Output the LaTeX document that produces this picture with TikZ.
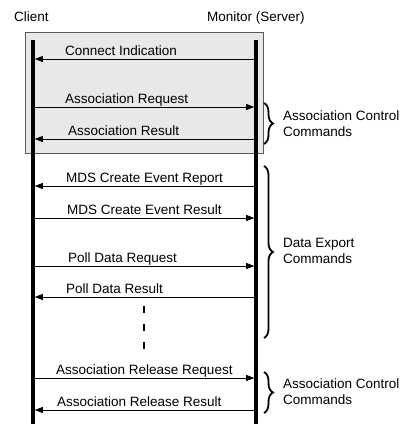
\documentclass[tikz,border=0pt]{standalone}
\usepackage{fontspec}
\setmainfont{Liberation Sans}
\usetikzlibrary{arrows.meta,decorations.pathreplacing}
\begin{document}
\begin{tikzpicture}[x=1pt,y=-1pt,
  lifeline/.style={line width=3.6pt},
  msg/.style={line width=0.7pt,-{Triangle[length=8pt,width=6pt]}},
  lbl/.style={anchor=base west,inner sep=0pt},
  grp/.style={decorate,decoration={brace,amplitude=9pt},line width=1.8pt},
  grplbl/.style={anchor=west,align=left,inner sep=0pt,font=\fontsize{13.5}{15.5}\selectfont},
  every node/.style={font=\fontsize{13.5}{15.5}\selectfont}]
\useasboundingbox (0,0) rectangle (400,424);
% grey box
\draw[draw=black!65,fill=black!9,line width=0.8pt] (25,32) rectangle (263,153);
% headers
\node[lbl] (client) at (14,21.7) {Client};
\node[lbl] (server) at (207,21.7) {Monitor (Server)};
% lifelines
\coordinate (ctop) at (33,40);
\coordinate (cbot) at (33,424);
\coordinate (stop) at (256,40);
\coordinate (sbot) at (256,424);
\draw[lifeline] (ctop) -- (cbot);
\draw[lifeline] (stop) -- (sbot);
% message endpoints
\foreach \i/\y in {1/59,2/107,3/139,4/186,5/218,6/266,7/297,8/378,9/410}{
  \coordinate (c\i) at (34.8,\y);
  \coordinate (s\i) at (254.2,\y);
}
\draw[msg] (s1) -- (c1);
\draw[msg] (c2) -- (s2);
\draw[msg] (s3) -- (c3);
\draw[msg] (s4) -- (c4);
\draw[msg] (c5) -- (s5);
\draw[msg] (c6) -- (s6);
\draw[msg] (s7) -- (c7);
\draw[msg] (c8) -- (s8);
\draw[msg] (s9) -- (c9);
% labels
\node[lbl] (l1) at (65,55.5) {Connect Indication};
\node[lbl] (l2) at (65,103.3) {Association Request};
\node[lbl] (l3) at (68,135.5) {Association Result};
\node[lbl] (l4) at (66,182.5) {MDS Create Event Report};
\node[lbl] (l5) at (67,214.5) {MDS Create Event Result};
\node[lbl] (l6) at (68,262.5) {Poll Data Request};
\node[lbl] (l7) at (66,293.5) {Poll Data Result};
\node[lbl] (l8) at (56,374.5) {Association Release Request};
\node[lbl] (l9) at (57,406.5) {Association Release Result};
% ellipsis
\coordinate (d1) at (143.5,306);
\coordinate (d2) at (143.5,354);
\draw[line width=2pt,dash pattern=on 7pt off 11pt] (d1) -- (d2);
% braces
\coordinate (b1t) at (264,103);
\coordinate (b1b) at (264,144);
\coordinate (b2t) at (264,166);
\coordinate (b2b) at (264,338);
\coordinate (b3t) at (264,372);
\coordinate (b3b) at (264,413);
\draw[grp] (b1t) -- (b1b);
\draw[grp] (b2t) -- (b2b);
\draw[grp] (b3t) -- (b3b);
\node[grplbl] (g1) at (283,123.5) {Association Control\\Commands};
\node[grplbl] (g2) at (283,251) {Data Export\\Commands};
\node[grplbl] (g3) at (283,391.5) {Association Control\\Commands};
\end{tikzpicture}
\end{document}
